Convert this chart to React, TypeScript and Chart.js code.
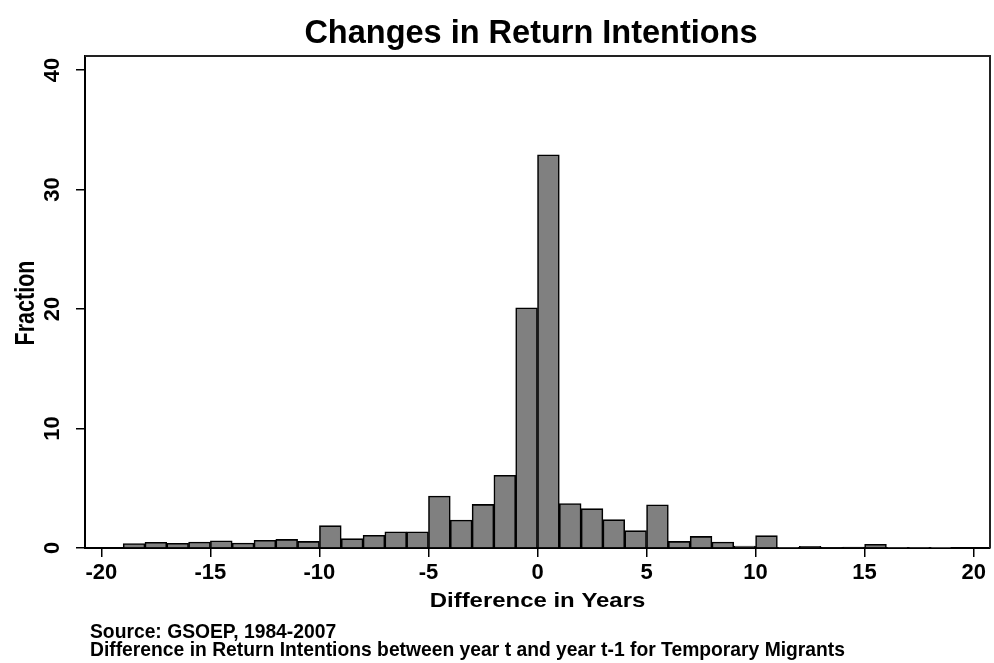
import React, { useEffect, useRef } from "react";
import { Chart, registerables } from "chart.js";

Chart.register(...registerables);

// ---- data ----
const binStarts: number[] = [
  -19, -18, -17, -16, -15, -14, -13, -12, -11, -10, -9, -8, -7, -6, -5, -4, -3, -2, -1,
  0, 1, 2, 3, 4, 5, 6, 7, 8, 9, 10, 11, 12, 13, 14, 15, 16, 17, 18,
];
const fractions: number[] = [
  0.38, 0.48, 0.4, 0.5, 0.6, 0.42, 0.65, 0.72, 0.55, 1.87, 0.78, 1.07, 1.36, 1.36, 4.35, 2.34, 3.65, 6.08, 20.1,
  32.9, 3.72, 3.29, 2.37, 1.45, 3.62, 0.55, 0.97, 0.5, 0.17, 1.03, 0.05, 0.13, 0.06, 0.07, 0.3, 0.04, 0.04, 0.03,
];
const xTickValues: number[] = [-20, -15, -10, -5, 0, 5, 10, 15, 20];
const yTickValues: number[] = [0, 10, 20, 30, 40];
const chartTitle = "Changes in Return Intentions";
const xAxisTitle = "Difference in Years";
const yAxisTitle = "Fraction";
const noteLines: string[] = [
  "Source: GSOEP, 1984-2007",
  "Difference in Return Intentions between year t and year t-1 for Temporary Migrants",
];

const FONT = '"Liberation Sans", Arial, Helvetica, sans-serif';

const textPlugin = {
  id: "stataText",
  afterDraw(chart: any) {
    const { ctx, chartArea } = chart;
    ctx.save();
    // plot frame (top and right)
    ctx.strokeStyle = "#222";
    ctx.lineWidth = 2;
    ctx.beginPath();
    ctx.moveTo(chartArea.left, chartArea.top);
    ctx.lineTo(chartArea.right, chartArea.top);
    ctx.lineTo(chartArea.right, chartArea.bottom);
    ctx.stroke();

    ctx.fillStyle = "#000";
    // title
    ctx.font = `bold 32.5px ${FONT}`;
    ctx.textAlign = "center";
    ctx.textBaseline = "alphabetic";
    ctx.fillText(chartTitle, 531, 43);

    // x axis title
    ctx.save();
    ctx.translate((chartArea.left + chartArea.right) / 2, 607);
    ctx.scale(1.14, 1);
    ctx.font = `bold 21px ${FONT}`;
    ctx.textAlign = "center";
    ctx.fillText(xAxisTitle, 0, 0);
    ctx.restore();

    // y axis title
    ctx.save();
    ctx.translate(34, (chartArea.top + chartArea.bottom) / 2 + 1);
    ctx.rotate(-Math.PI / 2);
    ctx.scale(1, 1.3);
    ctx.font = `bold 21.5px ${FONT}`;
    ctx.textAlign = "center";
    ctx.fillText(yAxisTitle, 0, 0);
    ctx.restore();

    // notes
    ctx.font = `bold 19.3px ${FONT}`;
    ctx.textAlign = "left";
    ctx.fillText(noteLines[0], 90, 638);
    ctx.fillText(noteLines[1], 90, 656);
    ctx.restore();
  },
};

export default function App() {
  const canvasRef = useRef<HTMLCanvasElement | null>(null);

  useEffect(() => {
    if (!canvasRef.current) return;
    const points = binStarts.map((b, i) => ({ x: b + 0.5, y: fractions[i] }));
    const chart = new Chart(canvasRef.current, {
      type: "bar",
      data: {
        datasets: [
          {
            data: points as any,
            backgroundColor: "#808080",
            borderColor: "#000",
            borderWidth: 1.6,
            barPercentage: 1,
            categoryPercentage: 1,
          },
        ],
      },
      options: {
        responsive: false,
        animation: false,
        devicePixelRatio: 1,
        layout: { padding: { top: 56, right: 4, bottom: 0, left: 0 } },
        plugins: {
          legend: { display: false },
          tooltip: { enabled: false },
          title: { display: false },
        },
        scales: {
          x: {
            type: "linear",
            offset: false,
            min: -20.75,
            max: 20.75,
            afterFit: (s: any) => {
              s.height = 115;
            },
            afterBuildTicks: (s: any) => {
              s.ticks = xTickValues.map((v) => ({ value: v }));
            },
            ticks: {
              includeBounds: false,
              stepSize: 5,
              autoSkip: false,
              maxRotation: 0,
              minRotation: 0,
              padding: 3,
              color: "#000",
              font: { family: FONT, size: 22, weight: "bold" },
              callback: (v: any) => String(v),
            },
            grid: {
              display: true,
              offset: false,
              drawOnChartArea: false,
              drawTicks: true,
              tickLength: 9,
              color: "#000",
              lineWidth: 1.5,
            },
            border: { display: true, color: "#000", width: 2 },
          },
          y: {
            type: "linear",
            min: 0,
            max: 41.17,
            afterFit: (s: any) => {
              s.width = 85;
            },
            afterBuildTicks: (s: any) => {
              s.ticks = yTickValues.map((v) => ({ value: v }));
            },
            ticks: {
              includeBounds: false,
              stepSize: 10,
              minRotation: 90,
              maxRotation: 90,
              crossAlign: "center",
              padding: 11,
              color: "#000",
              font: { family: FONT, size: 22, weight: "bold" },
              callback: (v: any) => String(v),
            },
            grid: {
              display: true,
              offset: false,
              drawOnChartArea: false,
              drawTicks: true,
              tickLength: 9,
              color: "#000",
              lineWidth: 1.5,
            },
            border: { display: true, color: "#000", width: 2 },
          },
        },
      },
      plugins: [textPlugin],
    });
    return () => chart.destroy();
  }, []);

  return (
    <div style={{ position: "fixed", left: 0, top: 0, width: 994, height: 663, background: "#fff" }}>
      <canvas ref={canvasRef} width={994} height={663} style={{ display: "block" }} />
    </div>
  );
}
